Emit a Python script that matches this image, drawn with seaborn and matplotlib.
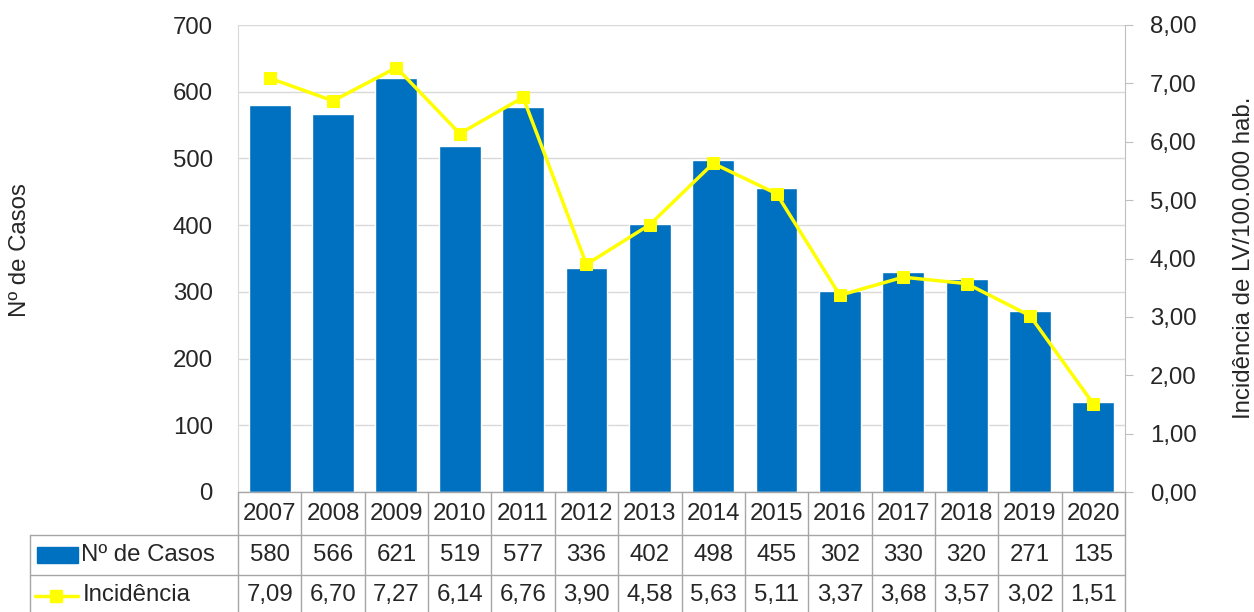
import numpy as np
import pandas as pd
import seaborn as sns
import matplotlib.pyplot as plt
from matplotlib.lines import Line2D
from matplotlib.patches import Rectangle
import matplotlib.transforms as mtransforms

# data
anos = ['2007', '2008', '2009', '2010', '2011', '2012', '2013',
        '2014', '2015', '2016', '2017', '2018', '2019', '2020']
casos = [580, 566, 621, 519, 577, 336, 402, 498, 455, 302, 330, 320, 271, 135]
incidencia = [7.09, 6.70, 7.27, 6.14, 6.76, 3.90, 4.58, 5.63, 5.11, 3.37, 3.68, 3.57, 3.02, 1.51]

df = pd.DataFrame({'ano': anos, 'casos': casos, 'incidencia': incidencia})

sns.set_style('white')
plt.rcParams['font.family'] = ['Liberation Sans', 'DejaVu Sans']

W, H = 1254, 612
fig = plt.figure(figsize=(W / 100, H / 100), dpi=100)
left, right, top, bottom = 238, 1125, 25, 492
ax = fig.add_axes([left / W, 1 - bottom / H, (right - left) / W, (bottom - top) / H])

blue = '#0070C0'
yellow = '#FFFF00'
grid = '#D9D9D9'
txt = '#262626'
fs = 17.3

sns.barplot(data=df, x='ano', y='casos', color=blue, width=0.66, saturation=1, ax=ax, zorder=2)
ax.set_ylim(0, 700)
ax.set_xlim(-0.5, len(anos) - 0.5)
ax.set_yticks(range(0, 701, 100))
ax.yaxis.grid(True, color=grid, lw=1)
ax.set_axisbelow(True)
ax.set_xticks([])
ax.set_xlabel('')
ax.set_ylabel('')
ax.tick_params(axis='y', length=0, pad=18, labelsize=fs, labelcolor=txt)
for s in ['top', 'right', 'bottom']:
    ax.spines[s].set_visible(False)
ax.spines['left'].set_color(grid)

ax2 = ax.twinx()
sns.lineplot(x=np.arange(len(anos)), y=df['incidencia'], color=yellow, lw=2.5,
             marker='s', markersize=9, markeredgecolor=yellow, ax=ax2, zorder=3)
ax2.set_ylim(0, 8)
ax2.set_yticks(range(0, 9))
ax2.set_yticklabels([f'{v:.2f}'.replace('.', ',') for v in range(0, 9)])
ax2.tick_params(axis='y', length=6, color='#BFBFBF', pad=12, labelsize=fs, labelcolor=txt)
for s in ['top', 'left', 'bottom']:
    ax2.spines[s].set_visible(False)
ax2.spines['right'].set_color('#BFBFBF')
ax2.set_ylabel('')

# axis titles
fig.text(20 / W, 1 - 250 / H, 'Nº de Casos', rotation=90, ha='center', va='center',
         fontsize=fs, color=txt)
fig.text(1244 / W, 1 - 258 / H, 'Incidência de LV/100.000 hab.', rotation=90,
         ha='center', va='center', fontsize=fs, color=txt)

# data table below the plot
trans = mtransforms.blended_transform_factory(ax.transData, fig.transFigure)
ftrans = fig.transFigure
line_c = '#A6A6A6'


def fy(py):
    return 1 - py / H


n = len(anos)
# horizontal lines
fig.add_artist(Line2D([30 / W, right / W], [fy(535), fy(535)], color=line_c, lw=1))
fig.add_artist(Line2D([30 / W, right / W], [fy(575), fy(575)], color=line_c, lw=1))
fig.add_artist(Line2D([left / W, right / W], [fy(492), fy(492)], color=line_c, lw=1))
# vertical lines
for i in range(n + 1):
    fig.add_artist(Line2D([i - 0.5, i - 0.5], [fy(492), fy(612)], color=line_c, lw=1,
                          transform=trans))
fig.add_artist(Line2D([30 / W, 30 / W], [fy(535), fy(612)], color=line_c, lw=1))

for i, a in enumerate(anos):
    fig.text(i, fy(514), a, transform=trans, ha='center', va='center', fontsize=fs, color=txt)
    fig.text(i, fy(555), str(casos[i]), transform=trans, ha='center', va='center',
             fontsize=fs, color=txt)
    fig.text(i, fy(595), f'{incidencia[i]:.2f}'.replace('.', ','), transform=trans,
             ha='center', va='center', fontsize=fs, color=txt)

# legend keys in the table
fig.add_artist(Rectangle((37 / W, fy(563)), 41 / W, 16 / H, color=blue, transform=ftrans))
fig.text(81 / W, fy(555), 'Nº de Casos', ha='left', va='center', fontsize=fs, color=txt)
fig.add_artist(Line2D([35 / W, 78 / W], [fy(596), fy(596)], color=yellow, lw=2.5,
                      transform=ftrans))
fig.add_artist(Line2D([56.5 / W], [fy(596)], color=yellow, marker='s', markersize=9,
                      transform=ftrans))
fig.text(83 / W, fy(595), 'Incidência', ha='left', va='center', fontsize=fs, color=txt)

fig.savefig('out.png', dpi=100)
